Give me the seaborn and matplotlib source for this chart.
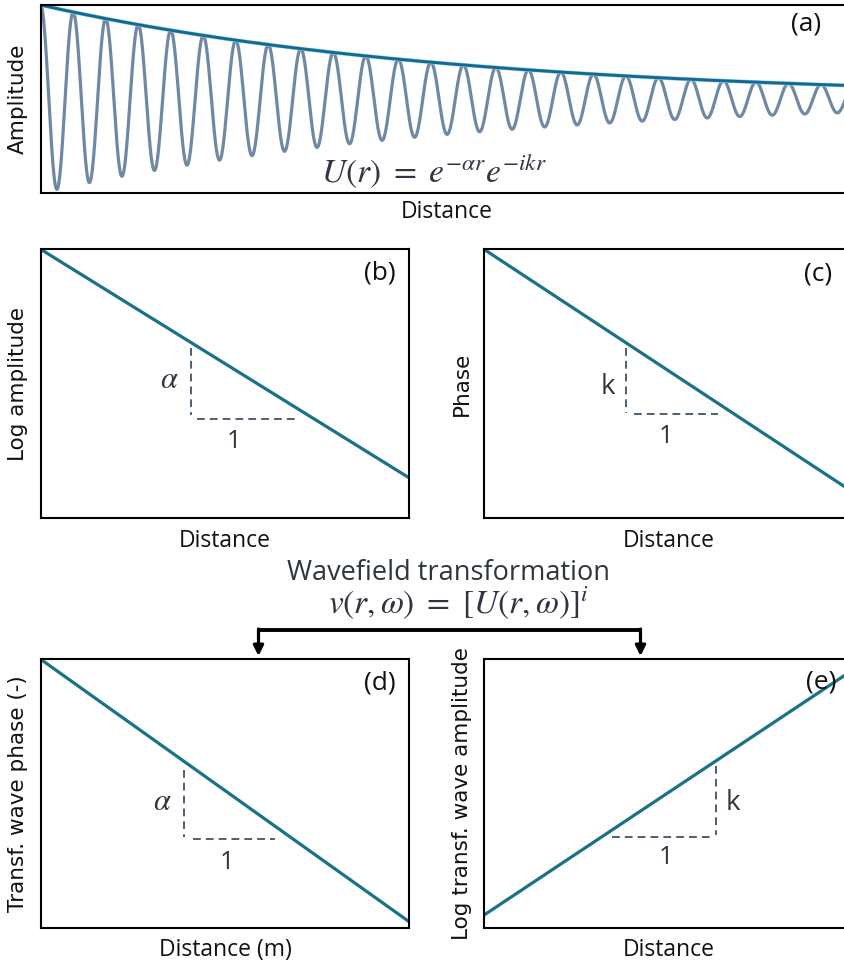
import numpy as np
import pandas as pd
import matplotlib
matplotlib.use("Agg")
import matplotlib.pyplot as plt
import seaborn as sns

# ---------------- data ----------------
# (a) damped wave U(r) = exp(-alpha r) exp(-i k r), r normalised to the axis width
ALPHA = 1.95          # decay of the envelope
CYCLES = 24.95        # number of oscillations across the panel
# straight lines in (b)-(e): value at left edge and right edge of the axis
line_x = [0.0, 1.0]
line_b = [1.0, 0.15]    # log amplitude
line_c = [1.0, 0.098]   # phase
line_d = [1.0, 0.023]   # transformed wave phase
line_e = [0.048, 0.96]  # log transformed wave amplitude
# slope triangles: vertical leg (x, y_top, y_bottom), horizontal leg (y, x_left, x_right)
tri_b = [0.407, 0.633, 0.384, 0.370, 0.424, 0.695]
tri_c = [0.384, 0.634, 0.393, 0.389, 0.407, 0.635]
tri_d = [0.389, 0.588, 0.340, 0.331, 0.412, 0.636]
tri_e = [0.629, 0.603, 0.346, 0.339, 0.348, 0.616]
slope_labels = {"b": (r"$\alpha$", "1"), "c": ("k", "1"), "d": (r"$\alpha$", "1"), "e": ("k", "1")}
panel_names = ["(a)", "(b)", "(c)", "(d)", "(e)"]
ylabels = ["Amplitude", "Log amplitude", "Phase", "Transf. wave phase (-)", "Log transf. wave amplitude"]
xlabels = ["Distance", "Distance", "Distance", "Distance (m)", "Distance"]

# ---------------- style ----------------
sns.set_theme(style="white")
plt.rcParams["font.family"] = ["DejaVu Sans"]
plt.rcParams["mathtext.fontset"] = "stix"
SANS2 = ["Open Sans", "DejaVu Sans"]

W, H = 845, 965
fig = plt.figure(figsize=(W / 100, H / 100), dpi=100)

def px_axes(l, t, r, b):
    return fig.add_axes([l / W, 1 - b / H, (r - l) / W, (b - t) / H])

ax_a = px_axes(40.7, 5, 852, 193)
ax_b = px_axes(40.7, 249.3, 409.3, 518.3)
ax_c = px_axes(484, 249.3, 852.6, 518.3)
ax_d = px_axes(40.7, 659.3, 409.3, 928)
ax_e = px_axes(484, 659.3, 852.6, 928)
axes = [ax_a, ax_b, ax_c, ax_d, ax_e]

LINE = "#19718a"
WAVE = "#6f89a4"
ENV = "#17688f"
DASH = "#4f5f73"
TXT = "#2e3440"

# (a)
r = np.linspace(0, 1, 4000)
env = np.exp(-ALPHA * r)
wave = env * np.cos(2 * np.pi * CYCLES * r)
df_a = pd.DataFrame({"r": r, "wave": wave, "env": env})
sns.lineplot(data=df_a, x="r", y="wave", ax=ax_a, color=WAVE, lw=2.3)
sns.lineplot(data=df_a, x="r", y="env", ax=ax_a, color="#8fd6f0", lw=2.9)
sns.lineplot(data=df_a, x="r", y="env", ax=ax_a, color=ENV, lw=2.1)
ax_a.set_xlim(0, 1)
ax_a.set_ylim(-1.0, 1.0)
ax_a.text(0.484, 0.112, r"$U(r)\ =\ e^{-\alpha r}e^{-ikr}$", transform=ax_a.transAxes,
          ha="center", va="center", fontsize=24, color=TXT)

# (b)-(e)
for ax, ys, tri, key in [(ax_b, line_b, tri_b, "b"), (ax_c, line_c, tri_c, "c"),
                         (ax_d, line_d, tri_d, "d"), (ax_e, line_e, tri_e, "e")]:
    df = pd.DataFrame({"x": line_x, "y": ys})
    sns.lineplot(data=df, x="x", y="y", ax=ax, color=LINE, lw=2.3)
    vx, vy0, vy1, hy, hx0, hx1 = tri
    ax.plot([vx, vx], [vy0, vy1], ls=(0, (4, 2.6)), color=DASH, lw=1.4)
    ax.plot([hx0, hx1], [hy, hy], ls=(0, (4, 2.6)), color=DASH, lw=1.4)
    ax.set_xlim(0, 1)
    ax.set_ylim(0, 1)

lab_pos = {"b": ((0.348, 0.514), (0.523, 0.285)),
           "c": ((0.336, 0.489), (0.494, 0.303)),
           "d": ((0.331, 0.470), (0.505, 0.242)),
           "e": ((0.675, 0.465), (0.494, 0.261))}
for ax, key in [(ax_b, "b"), (ax_c, "c"), (ax_d, "d"), (ax_e, "e")]:
    (p1, p2) = lab_pos[key]
    t1, t2 = slope_labels[key]
    ax.text(*p1, t1, transform=ax.transAxes, ha="center", va="center",
            fontsize=22 if t1.startswith("$") else 20, color=TXT, family=SANS2)
    ax.text(*p2, t2, transform=ax.transAxes, ha="center", va="center",
            fontsize=18, color=TXT, family=SANS2)

# panel letters
plab = [(0.943, 0.899), (0.921, 0.912), (0.906, 0.908), (0.921, 0.912), (0.914, 0.916)]
ylab_x = [-0.028, -0.0616, -0.0597, -0.0616, -0.0597]
xlab_y = [-0.133, -0.1067, -0.1067, -0.103, -0.103]
for ax, name, pl, yl, xl, ylx, xly in zip(axes, panel_names, plab, ylabels, xlabels, ylab_x, xlab_y):
    ax.set_xticks([])
    ax.set_yticks([])
    for s in ax.spines.values():
        s.set_color("black")
        s.set_linewidth(1.5)
    ax.text(*pl, name, transform=ax.transAxes, ha="center", va="center",
            fontsize=19, color="#111111", family=SANS2)
    ax.set_ylabel(yl, fontsize=15.5, color="#111111", va="center", ha="center")
    ax.yaxis.set_label_coords(ylx, 0.5)
    ax.set_xlabel(xl, fontsize=16.5, color="#111111", family=SANS2, va="baseline", ha="center")
    ax.xaxis.set_label_coords(0.5, xly)

# overlay for the transformation bracket
ov = fig.add_axes([0, 0, 1, 1], zorder=5)
ov.patch.set_alpha(0)
ov.set_axis_off()
ov.set_xlim(0, W)
ov.set_ylim(H, 0)
ov.text(449, 573, "Wavefield transformation", ha="center", va="center",
        fontsize=19.5, color=TXT, family=SANS2)
ov.text(458, 603, r"$v(r,\omega)\ =\ [U(r,\omega)]^{i}$", ha="center", va="center",
        fontsize=24, color=TXT)
ov.plot([257, 642], [630, 630], color="black", lw=2.8, solid_capstyle="butt")
for xa in (258.5, 640.5):
    ov.annotate("", xy=(xa, 656), xytext=(xa, 629),
                arrowprops=dict(arrowstyle="-|>", color="black", lw=2.3,
                                mutation_scale=15, shrinkA=0, shrinkB=0))

fig.savefig("out.png", dpi=100)
